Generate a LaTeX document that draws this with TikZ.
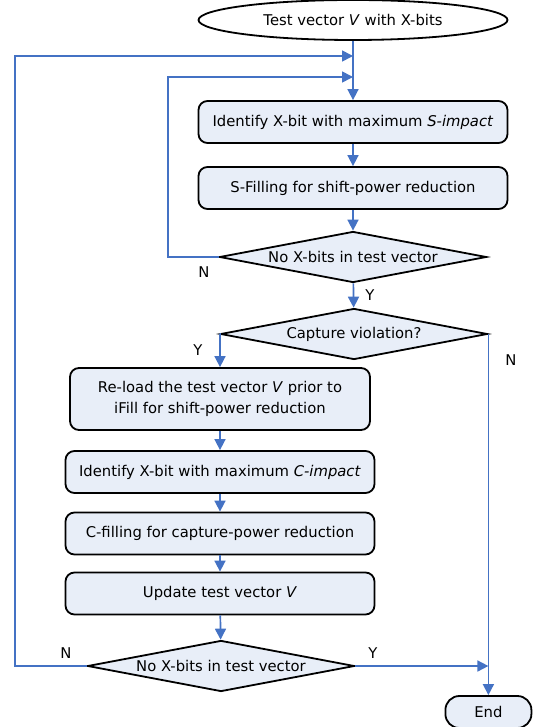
\documentclass[tikz,border=0pt]{standalone}
\usepackage{fontspec}
\setmainfont{DejaVu Sans}
\usetikzlibrary{shapes.geometric,arrows.meta}
\definecolor{flowblue}{RGB}{68,114,196}
\definecolor{boxfill}{RGB}{232,238,248}

\begin{document}
\begin{tikzpicture}[x=1pt,y=-1pt,
  txt/.style={font=\fontsize{14.8}{21}\selectfont},
  box/.style={txt,draw,line width=1.8pt,rounded corners=9pt,fill=boxfill,minimum width=309pt,minimum height=42pt,align=center},
  decision/.style={txt,draw,diamond,line width=1.8pt,fill=boxfill,aspect=5.2,inner sep=0pt,minimum width=267pt,minimum height=51pt},
  flow/.style={draw,flowblue,line width=1.7pt,-{Triangle[length=11pt,width=11pt]}},
  yn/.style={font=\fontsize{14.8}{17}\selectfont}]
\useasboundingbox (0,0) rectangle (537,727);

\node[txt,draw,ellipse,line width=1.8pt,fill=white,minimum width=309pt,minimum height=40pt] (start) at (353,20) {Test vector \textit{V}\ with X-bits};

\node[box] (simpact) at (353,122) {Identify X-bit with maximum \textit{S-impact}};
\node[box] (sfill) at (353,188) {S-Filling for shift-power reduction};
\node[decision] (sdone) at (353,257) {No X-bits in test vector};
\node[decision] (capt) at (354,334) {Capture violation?};

\node[box,minimum width=300pt,minimum height=62pt] (reload) at (220,399) {Re-load the test vector \textit{V}\ prior to\\iFill for shift-power reduction};
\node[box] (cimpact) at (220,472) {Identify X-bit with maximum \textit{C-impact}};
\node[box] (cfill) at (220,533.5) {C-filling for capture-power reduction};
\node[box] (update) at (220,593.5) {Update test vector \textit{V}};
\node[decision] (cdone) at (221,666) {No X-bits in test vector};

\node[box,minimum width=86pt,minimum height=32pt,rounded corners=14pt] (finish) at (capt.east |- 0,712) {End};

% loop entries on the main line
\coordinate (outerin) at (353,56);
\coordinate (innerin) at (353,77);
\coordinate (outerturn) at (15,56);
\coordinate (innerturn) at (168,77);
\coordinate (endjoin) at (finish.north |- cdone.east);

\path[flow] (start) -- (simpact);
\path[flow] (simpact) -- (sfill);
\path[flow] (sfill) -- (sdone);
\path[flow] (sdone.west) -| (innerturn) -- (innerin);
\path[flow] (sdone) -- (capt);
\path[flow] (capt.west) -| (reload.north);
\path[flow] (capt.east) -- (finish.north);
\path[flow] (reload) -- (cimpact);
\path[flow] (cimpact) -- (cfill);
\path[flow] (cfill) -- (update);
\path[flow] (update) -- (cdone);
\path[flow] (cdone.west) -| (outerturn) -- (outerin);
\path[flow] (cdone.east) -- (endjoin);

\node[yn] (sno) at (204,272) {N};
\node[yn] (syes) at (370,295) {Y};
\node[yn] (cyes) at (198,350) {Y};
\node[yn] (cno) at (511,360) {N};
\node[yn] (dno) at (66,653) {N};
\node[yn] (dyes) at (373,653) {Y};
\end{tikzpicture}
\end{document}
